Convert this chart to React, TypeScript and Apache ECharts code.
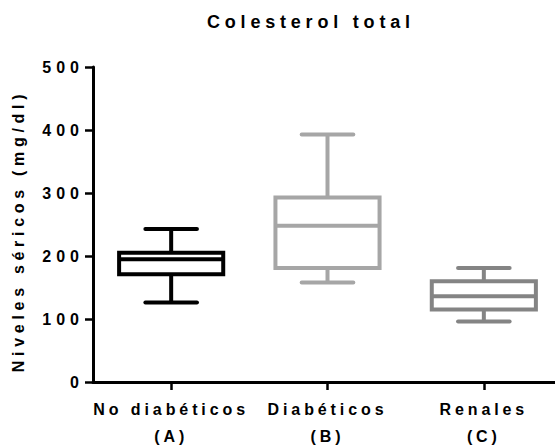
import React, { useEffect, useRef } from 'react';
import * as echarts from 'echarts';

const categories = ['No diabéticos\n(A)', 'Diabéticos\n(B)', 'Renales\n(C)'];
const minValues = [126, 158, 96];
const q1Values = [171, 181, 115];
const medianValues = [195, 248, 136];
const q3Values = [205, 293, 160];
const maxValues = [243, 393, 181];
const boxColors = ['#000000', '#a6a6a6', '#848484'];
const yTicks = [0, 100, 200, 300, 400, 500];

const TITLE = 'Colesterol total';
const Y_NAME = 'Niveles séricos (mg/dl)';
const FONT = '"Liberation Sans", Arial, sans-serif';

export default function App() {
  const ref = useRef<HTMLDivElement>(null);

  useEffect(() => {
    document.body.style.margin = '0';
    const el = ref.current!;
    const chart = echarts.init(el, null, { renderer: 'svg' });
    const data = categories.map((_, i) => [
      i,
      minValues[i],
      q1Values[i],
      medianValues[i],
      q3Values[i],
      maxValues[i],
    ]);

    const renderItem = (params: any, api: any) => {
      const i = api.value(0);
      const band = api.size([1, 0])[0];
      const cx = api.coord([i, 0])[0];
      const y = (v: number) => api.coord([i, v])[1];
      const yMin = y(api.value(1));
      const yQ1 = y(api.value(2));
      const yMed = y(api.value(3));
      const yQ3 = y(api.value(4));
      const yMax = y(api.value(5));
      const half = band * 0.333;
      const cap = band * 0.165;
      const color = boxColors[params.dataIndex];
      const lw = 4;
      const st = { stroke: color, lineWidth: lw, fill: 'none' };
      return {
        type: 'group',
        children: [
          { type: 'line', shape: { x1: cx, y1: yMax, x2: cx, y2: yQ3 }, style: st },
          { type: 'line', shape: { x1: cx, y1: yQ1, x2: cx, y2: yMin }, style: st },
          { type: 'line', shape: { x1: cx - cap, y1: yMax, x2: cx + cap, y2: yMax }, style: { ...st, lineCap: 'round' } },
          { type: 'line', shape: { x1: cx - cap, y1: yMin, x2: cx + cap, y2: yMin }, style: { ...st, lineCap: 'round' } },
          { type: 'rect', shape: { x: cx - half, y: yQ3, width: 2 * half, height: yQ1 - yQ3 }, style: { ...st, fill: '#fff' } },
          { type: 'line', shape: { x1: cx - half, y1: yMed, x2: cx + half, y2: yMed }, style: st },
        ],
      };
    };

    chart.setOption({
      animation: false,
      backgroundColor: '#ffffff',
      title: {
        text: TITLE,
        left: 202,
        top: 8,
        textStyle: { fontFamily: FONT, fontSize: 18, fontWeight: 'bold', color: '#000' },
      },
      grid: { left: 93, right: -7, top: 67, bottom: 64, outerBoundsMode: 'none', containLabel: false },
      xAxis: {
        type: 'category',
        data: categories,
        boundaryGap: true,
        axisLine: { show: true, lineStyle: { color: '#000', width: 3 } },
        axisTick: { show: true, alignWithLabel: true, length: 8, lineStyle: { color: '#000', width: 2.5 } },
        axisLabel: { color: '#000', fontFamily: FONT, fontSize: 16, fontWeight: 'bold', lineHeight: 27, margin: 14 },
        splitLine: { show: false },
      },
      yAxis: {
        type: 'value',
        min: 0,
        max: 500,
        interval: 100,
        axisLine: { show: true, lineStyle: { color: '#000', width: 3 } },
        axisTick: { show: true, length: 8, lineStyle: { color: '#000', width: 2.5 }, customValues: yTicks },
        axisLabel: { color: '#000', fontFamily: FONT, fontSize: 16, fontWeight: 'bold', margin: 9, customValues: yTicks },
        splitLine: { show: false },
      },
      graphic: [
        {
          type: 'text',
          x: 18,
          y: 231,
          rotation: Math.PI / 2,
          style: {
            text: Y_NAME,
            fontFamily: FONT,
            fontSize: 16,
            fontWeight: 'bold',
            fill: '#000',
            textAlign: 'center',
            textVerticalAlign: 'middle',
          },
        },
      ],
      series: [
        {
          type: 'custom',
          renderItem,
          data,
          encode: { x: 0, y: [1, 2, 3, 4, 5] },
        },
      ],
    });

    const applySpacing = () => {
      el.querySelectorAll('text').forEach((t) => {
        const txt = t.textContent || '';
        let ls = 3.9;
        if (txt === TITLE) ls = 4.8;
        else if (txt === Y_NAME) ls = 4.7;
        else if (/^\d+$/.test(txt)) ls = 5;
        (t as SVGTextElement).style.letterSpacing = ls + 'px';
      });
    };
    applySpacing();
    chart.on('finished', applySpacing);
    const t1 = setTimeout(applySpacing, 0);
    const t2 = setTimeout(applySpacing, 100);
    const raf = requestAnimationFrame(applySpacing);

    return () => {
      clearTimeout(t1);
      clearTimeout(t2);
      cancelAnimationFrame(raf);
      chart.dispose();
    };
  }, []);

  return <div ref={ref} style={{ width: 555, height: 446 }} />;
}
